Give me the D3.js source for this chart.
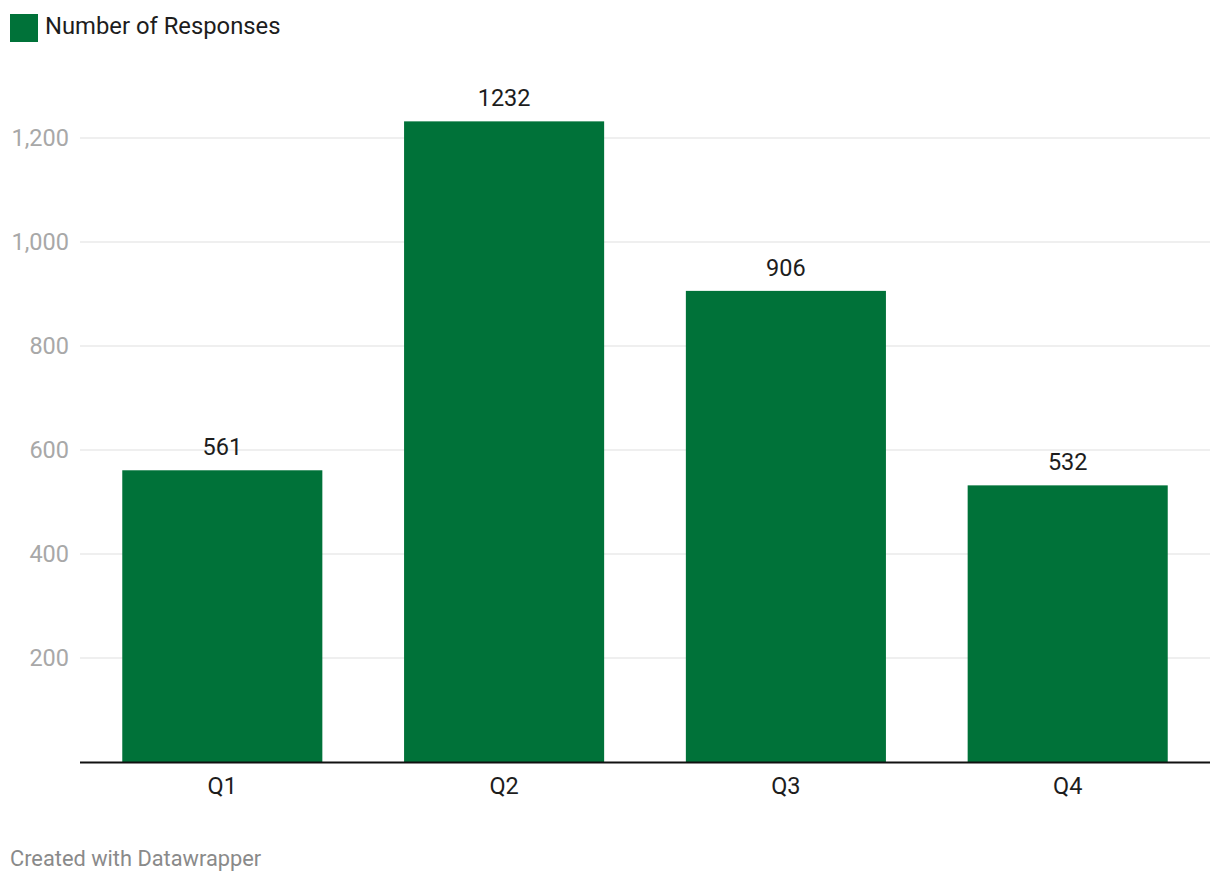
<!DOCTYPE html>
<html><head><meta charset="utf-8">
<script src="https://cdn.jsdelivr.net/npm/d3@7"></script>
<style>body{margin:0;background:#fff;}svg{display:block;font-family:Roboto,sans-serif;}</style>
</head><body><svg id="c" width="1220" height="884"></svg>
<script>
const categories = ["Q1","Q2","Q3","Q4"];
const values = [561,1232,906,532];
const yTicks = [200,400,600,800,1000,1200];
const seriesName = "Number of Responses";
const footer = "Created with Datawrapper";
const green = "#007239";

const svg = d3.select("#c");
const x = d3.scaleBand().domain(categories).range([80,1210]).paddingInner(0.29).paddingOuter(0.15);
const y = d3.scaleLinear().domain([0,1200]).range([762,138]);

// gridlines
svg.append("g").selectAll("line").data(yTicks).join("line")
  .attr("x1",80).attr("x2",1210).attr("y1",d=>y(d)).attr("y2",d=>y(d))
  .attr("stroke","#e0e0e0").attr("stroke-width",1.2);
svg.append("g").selectAll("text").data(yTicks).join("text")
  .attr("x",69).attr("y",d=>y(d)).attr("dy","0.36em").attr("text-anchor","end")
  .attr("font-size",23.5).attr("fill","#a8a8a8").text(d=>d3.format(",")(d));

// bars
svg.append("g").selectAll("rect").data(values).join("rect")
  .attr("x",(d,i)=>x(categories[i])).attr("width",x.bandwidth())
  .attr("y",d=>y(d)).attr("height",d=>y(0)-y(d)).attr("fill",green);
svg.append("g").selectAll("text").data(values).join("text")
  .attr("x",(d,i)=>x(categories[i])+x.bandwidth()/2).attr("y",d=>y(d)-15)
  .attr("text-anchor","middle").attr("font-size",23.5).attr("fill","#1d1d1d").text(d=>d);

// axis
svg.append("line").attr("x1",80).attr("x2",1210).attr("y1",762.5).attr("y2",762.5)
  .attr("stroke","#111").attr("stroke-width",2);
svg.append("g").selectAll("text").data(categories).join("text")
  .attr("x",d=>x(d)+x.bandwidth()/2).attr("y",794).attr("text-anchor","middle")
  .attr("font-size",23.5).attr("fill","#1d1d1d").text(d=>d);

// legend
svg.append("rect").attr("x",10).attr("y",14).attr("width",28).attr("height",28).attr("fill",green);
svg.append("text").attr("x",45).attr("y",34).attr("font-size",23.8).attr("fill","#1d1d1d").text(seriesName);

// footer
svg.append("text").attr("x",10).attr("y",866).attr("font-size",21.8).attr("fill","#8a8a8a").text(footer);
</script></body></html>
